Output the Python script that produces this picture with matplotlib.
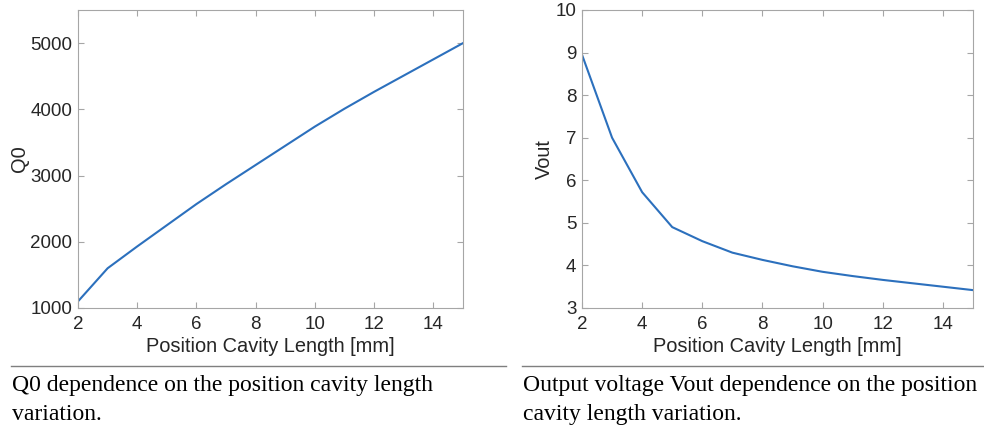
import matplotlib
matplotlib.use('Agg')
import matplotlib.pyplot as plt
from matplotlib.lines import Line2D

# cavity length [mm]
length_mm = [2, 3, 4, 5, 6, 7, 8, 9, 10, 11, 12, 13, 14, 15]
# quality factor Q0
q0 = [1100, 1600, 1930, 2250, 2570, 2870, 3160, 3450, 3740, 4010, 4265, 4510, 4755, 5000]
# output voltage
vout = [8.95, 7.0, 5.72, 4.9, 4.57, 4.3, 4.13, 3.98, 3.85, 3.75, 3.66, 3.58, 3.5, 3.42]

x_ticks = [2, 4, 6, 8, 10, 12, 14]
q0_ticks = [1000, 2000, 3000, 4000, 5000]
vout_ticks = [3, 4, 5, 6, 7, 8, 9, 10]

caption_left = ["Q0 dependence on the position cavity length", "variation."]
caption_right = ["Output voltage Vout dependence on the position", "cavity length variation."]

plt.rcParams['font.family'] = ['Liberation Sans', 'DejaVu Sans']

W, H = 984, 428
fig = plt.figure(figsize=(W / 100, H / 100), dpi=100)

line_col = '#2c70bd'
box_col = '#a6a6a6'
txt_col = '#262626'


def style_axes(ax, yticks, ylim, ylabel):
    ax.set_xlim(2, 15)
    ax.set_ylim(*ylim)
    ax.set_xticks(x_ticks)
    ax.set_yticks(yticks)
    for s in ax.spines.values():
        s.set_color(box_col)
        s.set_linewidth(0.8)
    ax.tick_params(direction='in', length=4, width=0.8, color=box_col,
                   labelcolor=txt_col, labelsize=13.5, top=True, right=True)
    ax.tick_params(axis='x', pad=6)
    ax.tick_params(axis='y', pad=4)
    ax.set_xlabel('Position Cavity Length [mm]', fontsize=14.4, color=txt_col, labelpad=3)
    ax.set_ylabel(ylabel, fontsize=14.4, color=txt_col, labelpad=1)


ax1 = fig.add_axes([78 / W, 1 - 308 / H, 385 / W, 298 / H])
ax1.plot(length_mm, q0, color=line_col, lw=1.5)
style_axes(ax1, q0_ticks, (1000, 5500), 'Q0')

ax2 = fig.add_axes([582 / W, 1 - 308 / H, 391 / W, 298 / H])
ax2.plot(length_mm, vout, color=line_col, lw=1.5)
style_axes(ax2, vout_ticks, (3, 10), 'Vout')

# separator lines above captions
y_sep = 1 - 365.7 / H
fig.add_artist(Line2D([11 / W, 506 / W], [y_sep, y_sep], color='#7f7f7f', lw=1.0))
fig.add_artist(Line2D([522 / W, 1.0], [y_sep, y_sep], color='#7f7f7f', lw=1.0))

# captions
serif = ['Liberation Serif', 'DejaVu Serif']
for i, base in enumerate([391.5, 420]):
    fig.text(12 / W, 1 - base / H, caption_left[i], family=serif, fontsize=17,
             va='baseline', ha='left', color='black')
    fig.text(523 / W, 1 - base / H, caption_right[i], family=serif, fontsize=17,
             va='baseline', ha='left', color='black')

fig.savefig('out.png', dpi=100)
